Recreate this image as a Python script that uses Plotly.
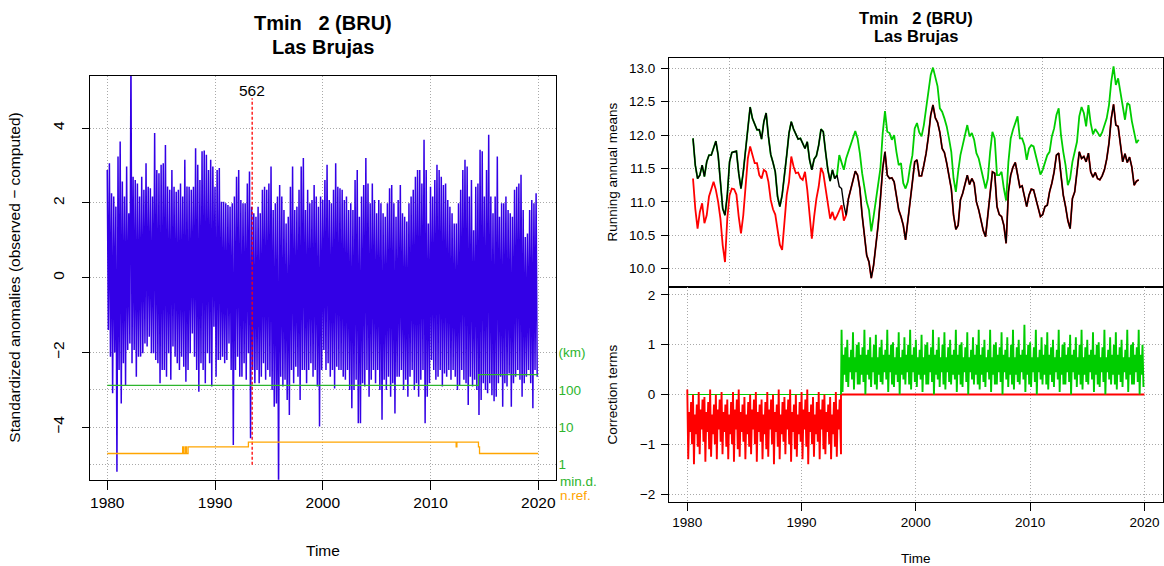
import numpy as np
import plotly.graph_objects as go

W, H = 1164, 566
FONT = "Liberation Sans, Arial, sans-serif"

# ---------------- Standardized anomalies (left panel) ----------------
# Daily series summarised as upper / lower extremes in 0.2-year bins from 1980.0
ANOM_START, ANOM_STEP = 1980.0, 0.2
anom_hi = [
    2.88, 3.06, 2.26, 2.17, 1.90, 3.24, 3.64, 2.57, 2.17, 2.97,
    1.72, 6.00, 2.70, 2.61, 2.52, 2.17, 2.70, 2.35, 3.06, 2.43,
    2.39, 2.17, 3.87, 2.88, 2.79, 3.02, 3.06, 3.55, 2.44, 2.35,
    2.88, 2.43, 2.30, 2.35, 2.52, 2.17, 3.15, 2.44, 2.43, 2.35,
    2.43, 3.46, 3.02, 2.61, 3.38, 3.40, 3.29, 2.88, 3.15, 2.97,
    2.43, 2.88, 2.93, 2.03, 2.03, 1.99, 1.94, 1.90, 1.99, 2.17,
    2.70, 2.88, 2.08, 1.99, 1.99, 2.52, 2.84, 1.90, 1.72, 1.63,
    1.90, 1.72, 2.35, 2.43, 2.35, 2.52, 2.97, 1.81, 1.99, 2.17,
    2.48, 2.17, 1.81, 1.45, 1.63, 2.43, 2.97, 1.81, 1.90, 2.35,
    2.97, 3.20, 1.81, 2.35, 1.99, 2.08, 2.48, 2.17, 1.90, 2.17,
    2.08, 2.61, 3.02, 2.08, 1.99, 2.35, 3.06, 2.43, 2.39, 2.35,
    2.08, 2.17, 1.81, 1.99, 1.81, 2.61, 2.88, 1.63, 2.17, 2.48,
    3.20, 2.52, 1.99, 2.52, 2.08, 1.72, 2.08, 1.99, 1.72, 1.63,
    1.99, 2.39, 2.48, 1.99, 1.63, 2.08, 2.48, 1.72, 1.63, 1.50,
    1.99, 2.17, 2.35, 2.70, 2.88, 2.88, 2.52, 3.69, 2.88, 1.45,
    2.43, 2.17, 2.61, 3.02, 2.88, 2.70, 2.48, 2.52, 2.08, 1.90,
    1.72, 1.45, 1.45, 1.99, 2.35, 2.88, 3.15, 2.97, 2.17, 2.61,
    1.27, 2.43, 2.52, 3.42, 3.38, 2.17, 2.88, 3.82, 2.17, 1.72,
    2.17, 3.24, 1.63, 1.99, 1.99, 2.17, 1.81, 1.72, 1.63, 2.35,
    2.43, 2.52, 2.75, 1.81, 1.09, 1.18, 1.81, 2.08, 1.99, 2.26,
]
anom_lo = [
    -1.40, -2.11, -3.09, -2.00, -5.19, -2.47, -3.36, -2.29, -2.87, -1.93,
    -1.76, -2.29, -1.93, -2.65, -2.11, -2.11, -2.02, -1.76, -1.84, -1.58,
    -2.02, -2.02, -2.20, -2.29, -2.82, -2.47, -2.47, -2.65, -2.02, -2.73,
    -1.84, -2.11, -2.29, -2.47, -2.11, -2.38, -2.78, -2.47, -2.02, -1.49,
    -2.11, -2.47, -3.05, -2.29, -2.47, -2.82, -2.02, -2.29, -2.91, -1.31,
    -2.65, -2.20, -2.20, -2.11, -2.29, -2.20, -1.76, -2.47, -4.47, -2.47,
    -2.11, -2.65, -2.65, -2.29, -2.73, -2.02, -4.29, -2.47, -2.82, -2.47,
    -2.82, -2.65, -2.29, -2.73, -2.47, -2.65, -3.00, -3.45, -3.36, -5.80,
    -2.65, -2.91, -2.73, -3.27, -3.67, -2.47, -2.82, -2.38, -2.65, -3.27,
    -2.47, -2.47, -2.82, -2.47, -2.29, -2.65, -2.47, -2.91, -3.98, -2.47,
    -1.93, -2.47, -2.29, -2.65, -2.47, -2.96, -2.38, -2.47, -2.47, -2.65,
    -2.73, -2.47, -3.00, -3.49, -3.00, -2.73, -3.89, -3.89, -2.82, -2.91,
    -2.47, -3.18, -2.73, -2.47, -2.82, -2.47, -3.00, -3.80, -2.73, -3.00,
    -2.65, -3.18, -2.82, -3.63, -2.65, -2.65, -2.47, -3.00, -2.73, -3.18,
    -2.65, -2.47, -3.00, -2.82, -3.18, -2.73, -2.47, -3.89, -3.18, -2.82,
    -2.20, -2.47, -2.73, -2.65, -2.47, -2.91, -2.56, -2.65, -2.47, -2.73,
    -2.47, -2.65, -3.00, -2.87, -2.47, -2.73, -2.82, -3.40, -2.65, -2.91,
    -2.73, -3.00, -3.67, -3.27, -2.82, -3.00, -3.09, -2.82, -3.14, -3.30,
    -3.18, -2.82, -2.65, -3.45, -2.82, -2.91, -2.56, -3.45, -2.82, -2.65,
    -2.47, -2.73, -3.18, -2.82, -2.65, -2.47, -2.82, -3.49, -2.47, -2.65,
]

BREAK_YEAR = 1993.45
BREAK_STAT = "562"

# Minimum distance to reference stations (km) and number of references
mind_t = [1980.0, 2014.45, 2020.0]
mind_km = [133, 255, 255]
nref_t = [1980.0, 1987.0, 1987.1, 1987.25, 1987.35, 1987.5, 1993.1,
          2012.38, 2012.45, 2014.45, 2014.55, 2020.0]
nref_n = [2, 3, 2, 3, 2, 3, 4, 3, 4, 3, 2, 2]

# ---------------- Running annual means (right, top) ----------------
RM_START, RM_STEP = 1980.5, 0.2
rm_obs = [
    11.95, 11.55, 11.35, 11.40, 11.55, 11.38, 11.60, 11.70, 11.70, 11.80,
    11.91, 11.70, 11.30, 10.90, 10.80, 11.10, 11.60, 11.74, 11.75, 11.76,
    11.43, 11.20, 11.45, 11.80, 12.13, 12.42, 12.25, 12.16, 12.08, 12.08,
    11.94, 12.20, 12.33, 11.98, 11.71, 11.59, 11.45, 11.08, 10.93, 11.10,
    11.45, 11.70, 12.03, 12.20, 12.09, 12.01, 11.94, 11.95, 11.86, 11.80,
    11.90, 11.63, 11.48, 11.64, 11.69, 11.85, 12.09, 12.05, 11.75, 11.48,
    11.31, 11.48, 11.35, 11.40, 11.23, 11.20, 10.95, 10.80, 11.05, 11.20,
    11.33, 11.46, 11.40, 11.20, 10.80, 10.48, 10.20, 10.10, 9.86, 10.05,
    10.35, 10.65, 11.05, 11.50, 11.75, 11.40, 11.35, 11.36, 11.30, 11.05,
    10.88, 10.78, 10.65, 10.43, 10.75, 10.98, 11.30, 11.60, 11.63, 11.39,
    11.39, 11.55, 11.73, 11.98, 12.30, 12.45, 12.26, 12.19, 12.04, 11.80,
    11.74, 11.58, 11.40, 11.20, 10.80, 10.59, 10.65, 11.03, 11.13, 11.25,
    11.40, 11.26, 11.35, 11.28, 11.00, 10.88, 10.73, 10.57, 10.48, 10.83,
    11.15, 11.45, 11.43, 10.93, 10.81, 10.78, 10.65, 10.38, 11.15, 11.40,
    11.52, 11.59, 11.41, 11.22, 11.24, 11.06, 10.93, 11.10, 11.19, 11.18,
    11.04, 10.90, 10.78, 10.81, 10.93, 10.95, 11.15, 11.28, 11.45, 11.70,
    11.73, 11.40, 11.10, 10.93, 10.72, 10.60, 11.05, 11.15, 11.45, 11.75,
    11.65, 11.68, 11.60, 11.73, 11.45, 11.37, 11.44, 11.35, 11.33, 11.39,
    11.48, 11.64, 11.88, 12.25, 12.46, 12.15, 12.13, 11.85, 11.60, 11.72,
    11.59, 11.67, 11.52, 11.25, 11.31, 11.33,
]
# adjusted series, first fragment (until it rejoins the observed series)
rm_adj1_early = [
    11.35, 10.90, 10.60, 10.85, 10.98, 10.68, 10.80, 11.08, 11.19, 11.30,
    11.18, 11.00, 10.75, 10.35, 10.10, 10.75, 11.10, 11.20, 11.19, 11.11,
    10.78, 10.53, 10.80, 11.30, 11.65, 11.83, 11.70, 11.58, 11.58, 11.40,
    11.35, 11.48, 11.45, 11.30, 11.03, 10.89, 10.81, 10.58, 10.36, 10.28,
    10.73, 11.10, 11.30, 11.68, 11.53, 11.43, 11.44, 11.36, 11.33, 11.45,
    11.18, 10.83, 10.45, 10.78, 11.05, 11.23, 11.51, 11.43, 11.20, 10.93,
    10.75, 10.85, 10.73, 10.79, 10.86, 10.95, 10.72,
]
# adjusted series, second fragment (from the break onwards)
RM_ADJ2_FROM = 64
rm_adj2_late = [
    11.70, 11.60, 11.48, 11.65, 11.75, 11.86, 11.93, 12.06, 11.95, 11.73,
    11.43, 11.20, 11.00, 10.88, 10.56, 10.78, 11.00, 11.28, 11.50, 12.03,
    12.36, 12.05, 12.03, 11.93, 12.00, 11.75, 11.55, 11.58, 11.28, 11.20,
    11.30, 11.53, 11.70, 12.10, 12.18, 12.04, 11.98, 12.15, 12.38, 12.65,
    12.90, 13.01, 12.88, 12.73, 12.40, 12.35, 12.25, 12.13, 11.95, 11.75,
    11.35, 11.15, 11.45, 11.70, 11.85, 11.98, 12.15, 11.98, 12.03, 11.93,
    11.73, 11.65, 11.48, 11.35, 11.20, 11.35, 11.75, 12.05, 11.95, 11.40,
    11.40, 11.45, 11.20, 11.02, 11.60, 11.95, 12.08, 12.18, 12.28, 11.95,
    11.95, 11.85, 11.63, 11.80, 11.85, 11.83, 11.70, 11.58, 11.41, 11.48,
    11.59, 11.70, 11.75, 11.98, 12.10, 12.30, 12.40, 12.00, 11.75, 11.55,
    11.25, 11.35, 11.60, 11.73, 11.90, 12.28, 12.42, 12.33, 12.13, 12.45,
    12.18, 12.01, 12.09, 12.04, 11.98, 12.04, 12.13, 12.25, 12.45, 12.80,
    13.03, 12.75, 12.85, 12.65, 12.43, 12.23, 12.48, 12.45, 12.21, 12.05,
    11.88, 11.93,
]

# ---------------- Correction terms (right, bottom) ----------------
# daily corrections summarised as extremes in 1/6-year bins
CT_STEP = 1 / 6
CT1_START = 1980.0
ct1_hi = [
    0.10, -0.35, -0.15, 0.00, -0.40, -0.20, 0.05, -0.30, -0.10,
    -0.05, -0.35, -0.15, 0.10, -0.40, -0.20, 0.00, -0.30, -0.10,
    0.05, -0.35, -0.20, -0.10, -0.40, -0.15, 0.05, -0.30, -0.10,
    0.10, -0.35, -0.20, -0.05, -0.40, -0.15, 0.00, -0.30, -0.10,
    0.05, -0.35, -0.20, -0.10, -0.40, -0.15, 0.05, -0.30, -0.10,
    0.00, -0.35, -0.20, 0.10, -0.40, -0.15, -0.05, -0.30, -0.10,
    0.10, -0.35, -0.20, 0.00, -0.40, -0.15, 0.05, -0.30, -0.10,
    0.10, -0.35, -0.20, -0.05, -0.40, -0.15, 0.05, -0.30, -0.10,
    0.00, -0.35, -0.20, -0.05, -0.40, -0.15, 0.05, -0.30, -0.10,
]
ct1_lo = [
    -1.30, -0.75, -1.00, -1.40, -0.80, -1.05, -1.20, -0.70, -0.95,
    -1.35, -0.75, -1.10, -1.25, -0.80, -1.00, -1.30, -0.70, -0.95,
    -1.20, -0.75, -1.05, -1.30, -0.80, -1.00, -1.35, -0.70, -1.10,
    -1.25, -0.75, -0.95, -1.30, -0.80, -1.05, -1.20, -0.70, -1.00,
    -1.35, -0.75, -0.95, -1.30, -0.80, -1.10, -1.25, -0.70, -1.00,
    -1.40, -0.75, -1.05, -1.30, -0.80, -0.95, -1.20, -0.70, -1.00,
    -1.35, -0.75, -1.10, -1.25, -0.80, -0.95, -1.30, -0.70, -1.05,
    -1.40, -0.75, -1.00, -1.25, -0.80, -0.95, -1.30, -0.70, -1.10,
    -1.20, -0.75, -1.00, -1.30, -0.80, -1.05, -1.25, -0.70, -1.20,
]
CT2_START = 1993.5
ct2_hi = [
    1.30, 0.80, 0.95, 1.10, 0.75, 0.90, 1.25, 0.75, 1.00, 1.05, 0.80, 0.95,
    1.30, 0.80, 0.90, 1.15, 0.75, 1.00, 1.20, 0.75, 0.95, 1.10, 0.80, 0.90,
    1.30, 0.80, 1.00, 1.05, 0.75, 0.95, 1.25, 0.75, 0.90, 1.15, 0.80, 1.00,
    1.30, 0.80, 0.95, 1.10, 0.75, 0.90, 1.20, 0.75, 1.00, 1.05, 0.80, 0.95,
    1.30, 0.80, 0.90, 1.15, 0.75, 1.00, 1.25, 0.75, 0.95, 1.10, 0.80, 0.90,
    1.30, 0.80, 1.00, 1.05, 0.75, 0.95, 1.25, 0.75, 0.90, 1.15, 0.80, 1.00,
    1.30, 0.80, 0.95, 1.10, 0.75, 0.90, 1.30, 0.75, 1.00, 1.05, 0.80, 0.95,
    1.25, 0.80, 0.90, 1.15, 0.75, 1.00, 1.30, 0.75, 0.95, 1.10, 0.80, 0.90,
    1.40, 0.80, 1.00, 1.05, 0.75, 0.95, 1.30, 0.75, 0.90, 1.15, 0.80, 1.00,
    1.25, 0.80, 0.95, 1.10, 0.75, 0.90, 1.30, 0.75, 1.00, 1.05, 0.80, 0.95,
    1.20, 0.80, 0.90, 1.15, 0.75, 1.00, 1.30, 0.75, 0.95, 1.10, 0.80, 0.90,
    1.25, 0.80, 1.00, 1.05, 0.75, 0.95, 1.30, 0.75, 0.90, 1.15, 0.80, 1.00,
    1.25, 0.80, 0.95, 1.10, 0.75, 0.90, 1.30, 0.75, 1.00, 1.05, 0.80, 0.95,
    1.30, 0.80, 1.00,
]
ct2_lo = [
    0.05, 0.40, 0.25, 0.15, 0.45, 0.30, 0.10, 0.45, 0.20, 0.20, 0.40, 0.25,
    0.00, 0.40, 0.30, 0.15, 0.45, 0.20, 0.10, 0.40, 0.25, 0.20, 0.45, 0.30,
    0.05, 0.45, 0.20, 0.15, 0.40, 0.25, 0.00, 0.40, 0.30, 0.20, 0.45, 0.20,
    0.10, 0.45, 0.25, 0.15, 0.40, 0.30, 0.05, 0.40, 0.20, 0.20, 0.45, 0.25,
    0.00, 0.40, 0.30, 0.15, 0.45, 0.20, 0.10, 0.45, 0.25, 0.20, 0.40, 0.30,
    0.05, 0.40, 0.20, 0.15, 0.45, 0.25, 0.00, 0.45, 0.30, 0.20, 0.40, 0.20,
    0.10, 0.40, 0.25, 0.15, 0.45, 0.30, 0.05, 0.40, 0.20, 0.20, 0.45, 0.25,
    0.00, 0.45, 0.30, 0.15, 0.40, 0.20, 0.10, 0.40, 0.25, 0.20, 0.45, 0.30,
    0.05, 0.40, 0.20, 0.15, 0.45, 0.25, 0.00, 0.45, 0.30, 0.20, 0.40, 0.20,
    0.10, 0.40, 0.25, 0.15, 0.45, 0.30, 0.05, 0.40, 0.20, 0.20, 0.45, 0.25,
    0.00, 0.45, 0.30, 0.15, 0.40, 0.20, 0.10, 0.40, 0.25, 0.20, 0.45, 0.30,
    0.05, 0.40, 0.20, 0.15, 0.45, 0.25, 0.00, 0.45, 0.30, 0.20, 0.40, 0.20,
    0.10, 0.40, 0.25, 0.15, 0.45, 0.30, 0.05, 0.40, 0.20, 0.20, 0.45, 0.25,
    0.00, 0.40, 0.15,
]
CT_END = 2020.0

# ---------------- helpers ----------------
def zigzag(start, step, hi, lo):
    """Interleave bin maxima and minima so the line sweeps each bin."""
    t = start + step * np.arange(len(hi))
    x = np.empty(2 * len(hi))
    y = np.empty(2 * len(hi))
    x[0::2] = t
    x[1::2] = t + step / 2
    y[0::2] = hi
    y[1::2] = lo
    return x, y


def px_x(p):
    return p / W


def px_y(p):
    return 1 - p / H


BLUE = "#3300e6"
RED = "#ff0000"
GREEN = "#00cd00"
MIND_GREEN = "#2db52d"
ORANGE = "#ffa500"
GRID = "#a9a9a9"
GRID_DASH = "1px,2px"

fig = go.Figure()

# left panel ------------------------------------------------------------
ax, ay = zigzag(ANOM_START, ANOM_STEP, anom_hi, anom_lo)
fig.add_trace(go.Scatter(x=ax, y=ay, mode="lines", line=dict(color=BLUE, width=1.5),
                         xaxis="x", yaxis="y", hoverinfo="skip"))

# log10 scale for distances / counts: 1 -> -5, 10 -> -4, 100 -> -3
def log_band(v):
    return -5 + np.log10(np.asarray(v, dtype=float))

fig.add_trace(go.Scatter(x=mind_t, y=log_band(mind_km), mode="lines", line_shape="hv",
                         line=dict(color=MIND_GREEN, width=1.2), xaxis="x", yaxis="y4"))
fig.add_trace(go.Scatter(x=nref_t, y=log_band(nref_n), mode="lines", line_shape="hv",
                         line=dict(color=ORANGE, width=1.3), xaxis="x", yaxis="y4"))
fig.add_trace(go.Scatter(x=[BREAK_YEAR, BREAK_YEAR], y=[-5, 4.8], mode="lines",
                         line=dict(color=RED, width=1.3, dash="3px,2px"),
                         xaxis="x", yaxis="y"))

# right top panel ---------------------------------------------------------
rm_t = RM_START + RM_STEP * np.arange(len(rm_obs))
n1 = len(rm_adj1_early)
rm_adj1 = list(rm_adj1_early) + list(rm_obs[n1:])
rm_adj2 = list(rm_obs[:RM_ADJ2_FROM]) + list(rm_adj2_late)
fig.add_trace(go.Scatter(x=rm_t, y=rm_adj2, mode="lines", line=dict(color=GREEN, width=1.8),
                         xaxis="x2", yaxis="y2"))
fig.add_trace(go.Scatter(x=rm_t, y=rm_adj1, mode="lines", line=dict(color=RED, width=1.8),
                         xaxis="x2", yaxis="y2"))
fig.add_trace(go.Scatter(x=rm_t, y=rm_obs, mode="lines", line=dict(color="#000000", width=1.4),
                         xaxis="x2", yaxis="y2"))

# right bottom panel ------------------------------------------------------
c1x, c1y = zigzag(CT1_START, CT_STEP, ct1_hi, ct1_lo)
c2x, c2y = zigzag(CT2_START, CT_STEP, ct2_hi, ct2_lo)
fig.add_trace(go.Scatter(x=[CT1_START, BREAK_YEAR], y=[0, 0], mode="lines",
                         line=dict(color=GREEN, width=1), xaxis="x3", yaxis="y3"))
fig.add_trace(go.Scatter(x=list(c1x) + [BREAK_YEAR, BREAK_YEAR, CT_END],
                         y=list(c1y) + [c1y[-1], 0, 0], mode="lines",
                         line=dict(color=RED, width=1.9), xaxis="x3", yaxis="y3"))
fig.add_trace(go.Scatter(x=[BREAK_YEAR] + list(c2x), y=[0] + list(c2y), mode="lines",
                         line=dict(color=GREEN, width=1.9), xaxis="x3", yaxis="y3"))

# layout ------------------------------------------------------------------
XR = [1978.4, 2021.6]
common = dict(showline=True, mirror=True, linecolor="#000000", linewidth=1,
              zeroline=False, showgrid=True, gridcolor=GRID, griddash=GRID_DASH, gridwidth=1)
years = [1980, 1990, 2000, 2010, 2020]

L_DOM_X = [px_x(90), px_x(555.5)]
L_DOM_Y = [px_y(479.7), px_y(75.7)]
R_DOM_X = [px_x(669), px_x(1162.7)]
RT_DOM_Y = [px_y(287), px_y(58)]
RB_DOM_Y = [px_y(502), px_y(287)]

fig.update_layout(
    width=W, height=H, autosize=False, margin=dict(l=0, r=0, t=0, b=0),
    paper_bgcolor="white", plot_bgcolor="white", showlegend=False,
    font=dict(family=FONT, color="#000000"),
    xaxis=dict(domain=L_DOM_X, range=XR, tickvals=years, ticktext=[str(y) for y in years],
               ticks="outside", ticklen=9, tickcolor="#000000", tickfont=dict(size=15.5),
               anchor="y", **common),
    yaxis=dict(domain=L_DOM_Y, range=[-5.4, 5.4], tickvals=[-4, -2, 0, 2, 4],
               ticktext=["\u22124", "\u22122", "0", "2", "4"], tickangle=-90,
               ticks="outside", ticklen=7, tickcolor="#000000", tickfont=dict(size=15.5),
               ticklabelstandoff=12, anchor="x", **common),
    yaxis4=dict(domain=L_DOM_Y, range=[-5.4, 5.4], overlaying="y", side="right", anchor="x",
                tickvals=[-5, -4, -3, -2], ticktext=["1", "10", "100", "(km)"],
                tickfont=dict(size=13.5, color=MIND_GREEN), ticks="", ticklabelstandoff=2,
                showgrid=True, gridcolor=GRID, griddash=GRID_DASH, zeroline=False,
                showline=False),
    xaxis2=dict(domain=R_DOM_X, range=XR, tick0=1970, dtick=5000 / 365.25,
                showticklabels=False, ticks="", anchor="y2", **common),
    yaxis2=dict(domain=RT_DOM_Y, range=[9.726, 13.154],
                tickvals=[10, 10.5, 11, 11.5, 12, 12.5, 13],
                ticktext=["10.0", "10.5", "11.0", "11.5", "12.0", "12.5", "13.0"],
                ticks="outside", ticklen=7, tickcolor="#000000", tickfont=dict(size=13.5),
                ticklabelstandoff=3, anchor="x2", **common),
    xaxis3=dict(domain=R_DOM_X, range=XR, tickvals=years, ticktext=[str(y) for y in years],
                ticks="outside", ticklen=8, tickcolor="#000000", tickfont=dict(size=13.5),
                anchor="y3", **common),
    yaxis3=dict(domain=RB_DOM_Y, range=[-2.16, 2.16], tickvals=[-2, -1, 0, 1, 2],
                ticktext=["\u22122", "\u22121", "0", "1", "2"],
                ticks="outside", ticklen=7, tickcolor="#000000", tickfont=dict(size=13.5),
                ticklabelstandoff=3, anchor="x3", **common),
)

ann = []
def text(x, y, s, size, color="#000000", angle=0, xanchor="center"):
    ann.append(dict(x=px_x(x), y=px_y(y), xref="paper", yref="paper", text=s,
                    showarrow=False, textangle=angle, xanchor=xanchor, yanchor="middle",
                    font=dict(size=size, color=color, family=FONT)))

NB = "\u00a0"
title1 = f"<b>Tmin{NB}{NB}{NB}2 (BRU)</b>"
title2 = "<b>Las Brujas</b>"
text(322.7, 23, title1, 20)
text(322.7, 47, title2, 20)
text(915.9, 18, title1, 16.5)
text(915.9, 36, title2, 16.5)
text(15, 277.7, "Standardized anomalies (observed \u2212 computed)", 15.5, angle=-90)
text(322.7, 550.7, "Time", 15.5)
text(612, 172.5, "Running annual means", 13.5, angle=-90)
text(612, 394.5, "Correction terms", 13.5, angle=-90)
text(915.9, 558, "Time", 13.5)
text(558, 481.7, "min.d.", 13.5, color=MIND_GREEN, xanchor="left")
text(558, 495.7, "n.ref.", 13.5, color=ORANGE, xanchor="left")
ann.append(dict(x=BREAK_YEAR, y=5.0, xref="x", yref="y", text=BREAK_STAT, showarrow=False,
                xanchor="center", yanchor="middle", font=dict(size=15.5, family=FONT)))
fig.update_layout(annotations=ann)

fig.write_html("out.html")
